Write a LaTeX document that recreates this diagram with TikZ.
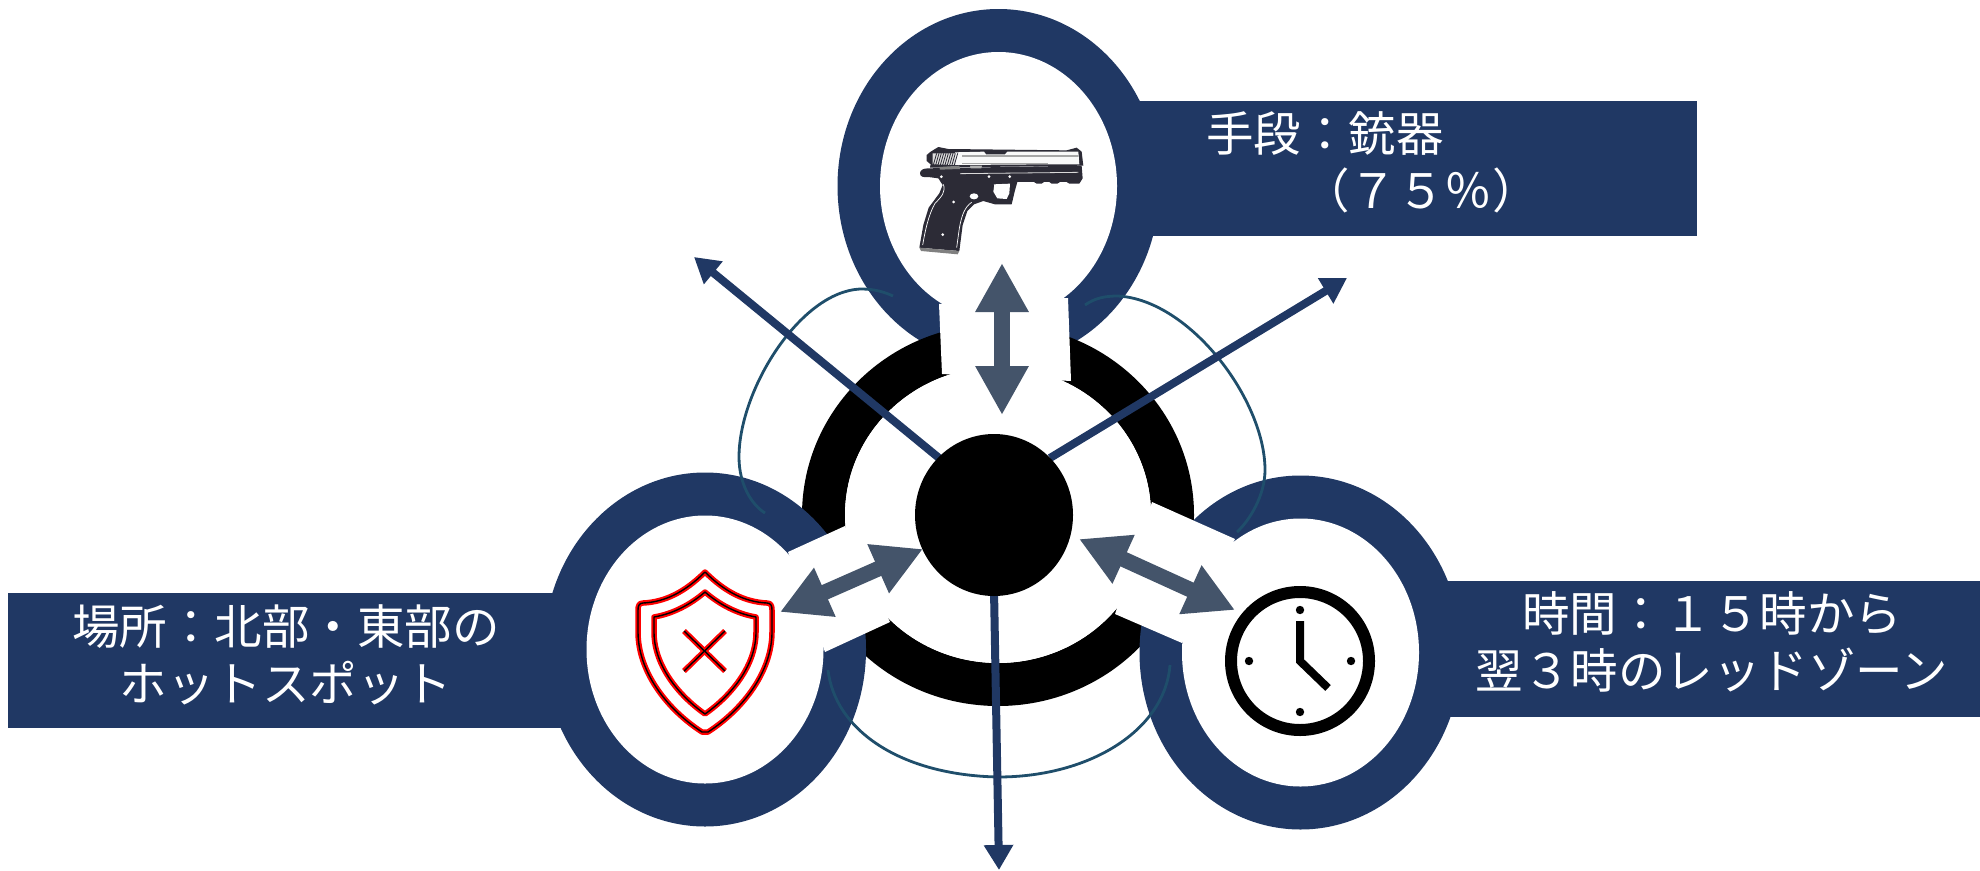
\documentclass[tikz,border=0pt]{standalone}
\usepackage{fontspec}
\usetikzlibrary{shapes.geometric,arrows.meta}
\newfontfamily\jpfont{Noto Sans CJK JP}
\definecolor{navy}{HTML}{203864}
\definecolor{slate}{HTML}{44546A}
\definecolor{arcblue}{HTML}{1F4E6B}
\definecolor{gundark}{HTML}{2C2B36}
\tikzset{
  banner/.style={fill=navy,draw=none},
  outerring/.style={ellipse,fill=navy,draw=none,inner sep=0,minimum width=322pt,minimum height=354pt},
  innerhole/.style={ellipse,fill=white,draw=none,inner sep=0,minimum width=237pt,minimum height=268pt},
  bannertext/.style={text=white,font=\jpfont\fontsize{47.5}{57}\selectfont,align=center,inner sep=0},
  whiteband/.style={fill=white,draw=none},
  thinarc/.style={draw=arcblue,line width=2.8pt},
  rayarrow/.style={draw=navy,line width=8pt,-{Triangle[length=25pt,width=28pt]}},
  linkarrow/.style={draw=slate,line width=15.5pt,{Triangle[length=49pt,width=50pt]}-{Triangle[length=49pt,width=50pt]}},
  shieldred/.style={draw=red,line width=5.5pt,line join=round},
  shieldblack/.style={draw=black,line width=1.4pt,line join=round},
}
\begin{document}
\begin{tikzpicture}[x=1pt,y=-1pt]
\useasboundingbox (0,0) rectangle (1980,870);
% banners
\fill[banner] (1100,101) rectangle (1697,236);
\fill[banner] (8,593) rectangle (600,728);
\fill[banner] (1400,581) rectangle (1980,717);
% top circle
\node[outerring] (topring) at (998.5,186) {};
\node[innerhole] (tophole) at (998.5,186) {};
% black ring
\path[fill=black,even odd rule] (998,515) ellipse [x radius=196,y radius=191] (998,515) ellipse [x radius=153,y radius=148];
\node[ellipse,fill=white,inner sep=0,minimum width=306pt,minimum height=296pt] (ringhole) at (998,515) {};
% side circles
\node[outerring] (leftring) at (705,649.5) {};
\node[innerhole] (lefthole) at (705,649.5) {};
\node[outerring] (rightring) at (1300.5,652.5) {};
\node[innerhole] (righthole) at (1300.5,652.5) {};
% white bands
\fill[whiteband] (939,304) -- (942,374) -- (1071,381) -- (1068,298) -- cycle;
\fill[whiteband] (788,552) -- (845,526) -- (890,622) -- (825,652) -- cycle;
\fill[whiteband] (1152,502) -- (1235,539) -- (1182,643) -- (1115,614) -- cycle;
% thin arcs
\draw[thinarc] (893,296) .. controls (880,290) and (870,289) .. (860,289) .. controls (800,292) and (739,390) .. (739,457) .. controls (739,485) and (752,505) .. (765,513);
\draw[thinarc] (1085,305) .. controls (1095,298) and (1105,296) .. (1118,296) .. controls (1190,300) and (1265,400) .. (1265,470) .. controls (1265,495) and (1250,520) .. (1237,532);
\draw[thinarc] (828,670) .. controls (835,730) and (900,775) .. (998,777) .. controls (1090,777) and (1165,730) .. (1170,665);
% rays from hub
\coordinate (hubnw) at (939,458);
\coordinate (hubne) at (1050,458);
\coordinate (hubs) at (994,590);
\coordinate (tipnw) at (694,257);
\coordinate (tipne) at (1347,278);
\coordinate (tips) at (999,870);
\draw[rayarrow] (hubnw) -- (tipnw);
\draw[rayarrow] (hubne) -- (tipne);
\draw[rayarrow] (hubs) -- (tips);
% hub
\node[ellipse,fill=black,inner sep=0,minimum width=158pt,minimum height=162pt] (hub) at (994,515) {};
% link arrows
\coordinate (ltop) at (1002,263);
\coordinate (lbot) at (1002,415);
\coordinate (la) at (780,612);
\coordinate (lb) at (923,549);
\coordinate (ra) at (1079,539);
\coordinate (rb) at (1235,610);
\draw[linkarrow] (ltop) -- (lbot);
\draw[linkarrow] (la) -- (lb);
\draw[linkarrow] (ra) -- (rb);
% labels
\node[bannertext,align=left] (toplabel) at (1373,162) {手段^^^^ff1a銃器\\\hspace*{96pt}^^^^ff08^^^^ff17^^^^ff15^^^^ff05^^^^ff09};
\node[bannertext] (leftlabel) at (286,654.5) {場所^^^^ff1a北部・東部の\\ホットスポット};
\node[bannertext] (rightlabel) at (1712,642) {時間^^^^ff1a^^^^ff11^^^^ff15時から\\翌^^^^ff13時のレッドゾーン};
% clock
\begin{scope}
\draw[black,line width=12pt] (1300,661) circle (69);
\foreach \dx/\dy in {0/-51,0/51,-51/0,51/0}{\fill[black] (1300+\dx,661+\dy) circle (4.2);}
\draw[black,line width=8pt,line join=miter] (1300,621) -- (1300,661) -- (1328,688);
\end{scope}
% shield
\path[shieldred] (705,572) .. controls (685,592) and (665,602) .. (643,603) .. controls (639,603) and (638,606) .. (638,610) -- (638,632) .. controls (638,670) and (665,708) .. (702,732) -- (708,732) .. controls (745,708) and (772,670) .. (772,632) -- (772,610) .. controls (772,606) and (771,603) .. (767,603) .. controls (745,602) and (725,592) .. (705,572) -- cycle;
\path[shieldred] (705,592) .. controls (690,605) and (672,614) .. (654,617) -- (654,632) .. controls (654,665) and (678,695) .. (705,714) .. controls (732,695) and (756,665) .. (756,632) -- (756,617) .. controls (738,614) and (720,605) .. (705,592) -- cycle;
\path[shieldblack] (705,572) .. controls (685,592) and (665,602) .. (643,603) .. controls (639,603) and (638,606) .. (638,610) -- (638,632) .. controls (638,670) and (665,708) .. (702,732) -- (708,732) .. controls (745,708) and (772,670) .. (772,632) -- (772,610) .. controls (772,606) and (771,603) .. (767,603) .. controls (745,602) and (725,592) .. (705,572) -- cycle;
\path[shieldblack] (705,592) .. controls (690,605) and (672,614) .. (654,617) -- (654,632) .. controls (654,665) and (678,695) .. (705,714) .. controls (732,695) and (756,665) .. (756,632) -- (756,617) .. controls (738,614) and (720,605) .. (705,592) -- cycle;
\draw[draw=red,line width=5.5pt] (684,631) -- (725,671) (725,631) -- (684,671);
\draw[draw=black,line width=1.4pt] (684,631) -- (725,671) (725,631) -- (684,671);
% pistol (coordinates in 3x crop px)
\begin{scope}[shift={(910,135)},x=0.3333pt,y=-0.3333pt]
\fill[gundark] (30,115) .. controls (30,105) and (40,100) .. (55,100) -- (515,92) -- (518,130) -- (508,146) -- (478,146) -- (470,141) -- (450,141) -- (442,146) -- (425,146) -- (418,141) -- (402,141) -- (395,146) -- (380,146) -- (372,141) -- (322,141) -- (314,170) -- (305,208) -- (255,208) -- (220,198) -- (192,208) -- (172,228) -- (158,270) -- (148,348) -- (28,338) -- (40,270) -- (56,218) -- (88,175) -- (98,150) -- (85,130) -- (55,126) .. controls (40,128) and (30,125) .. (30,115) -- cycle;
\fill[white] (252,148) -- (300,146) -- (298,175) -- (290,192) -- (262,190) -- (250,170) -- cycle;
\fill[gundark] (232,155) -- (252,150) -- (248,175) -- (252,190) -- (235,178) -- cycle;
\fill[white] (192,184) ellipse (13 and 9);
\foreach \gx/\gy in {94/125,237/125,299/125,131/201,98/299}{\fill[white] (\gx,\gy) circle (4.5);}
\fill[gray] (28,338) -- (148,348) -- (143,358) -- (33,348) -- cycle;
\draw[white,line width=0.7pt] (100,148) .. controls (108,170) and (95,185) .. (75,205) .. controls (55,240) and (45,290) .. (38,330);
\draw[white,line width=0.7pt] (185,202) .. controls (165,215) and (155,240) .. (148,280) -- (140,338);
% slide
\fill[gundark] (50,60) -- (62,50) -- (85,36) -- (115,42) -- (470,46) -- (500,38) -- (515,50) -- (520,92) -- (60,98) -- (62,88) -- (50,78) -- cycle;
\fill[white!95!gray] (135,52) -- (222,50) -- (228,58) -- (285,58) -- (292,50) -- (505,50) -- (508,88) -- (420,88) -- (135,90) -- cycle;
\fill[gray!70] (155,60) rectangle (505,65);
\fill[gray!70] (155,84) rectangle (415,88);
\fill[white!75!gray] (68,55) -- (135,55) -- (137,90) -- (68,88) -- cycle;
\foreach \sx in {70,77,...,133}{\draw[gundark,line width=0.8pt] (\sx,90) -- (\sx+10,55);}
\fill[gray] (88,96) -- (148,92) -- (150,102) -- (90,104) -- cycle;
\fill[gray!60] (180,92) -- (216,92) -- (214,100) -- (182,100) -- cycle;
\draw[white!70!gray,line width=0.8pt] (150,116) -- (505,112);
\end{scope}
\end{tikzpicture}
\end{document}
